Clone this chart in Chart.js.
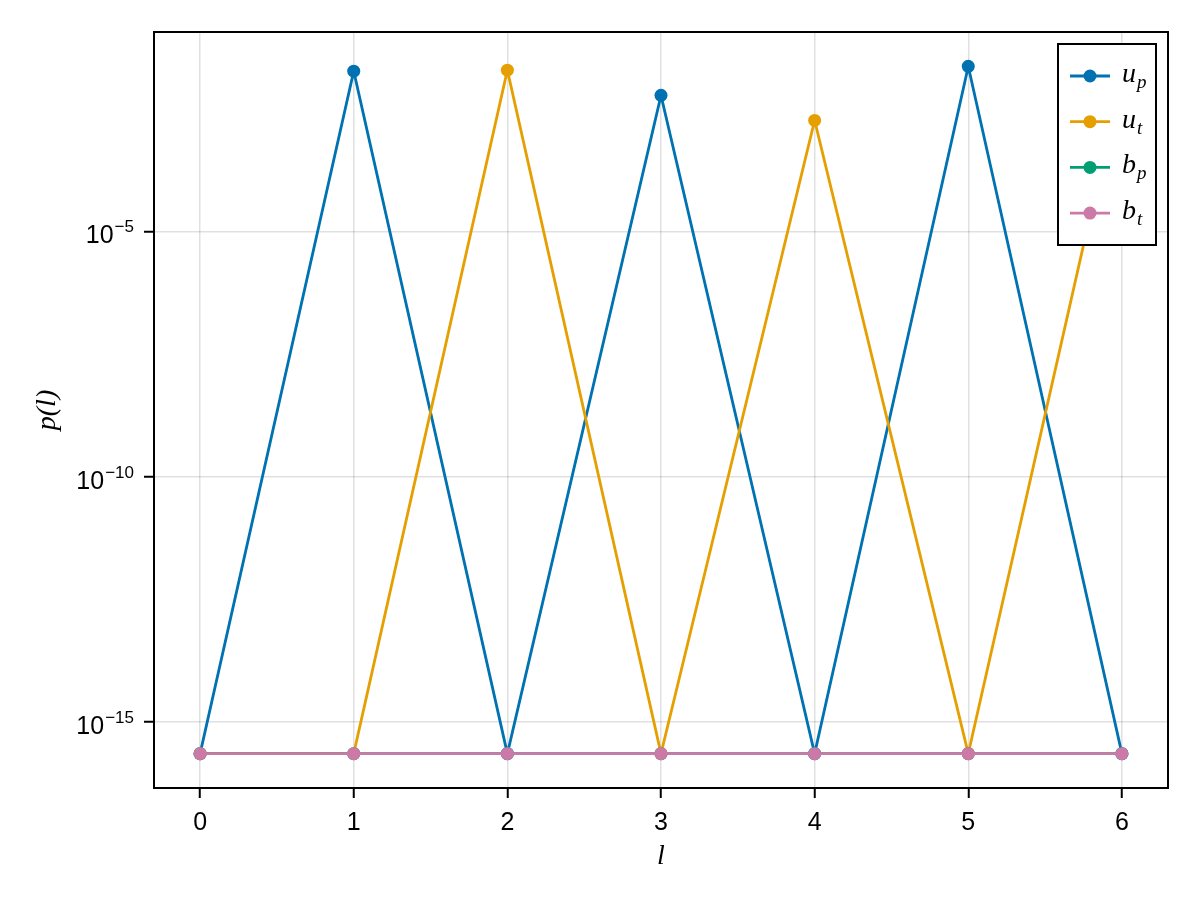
<!DOCTYPE html>
<html>
<head>
<meta charset="utf-8">
<script src="https://cdn.jsdelivr.net/npm/chart.js@4"></script>
<style>
  body { margin: 0; background: #fff; }
  #wrap { width: 1200px; height: 900px; }
</style>
</head>
<body>
<div id="wrap"><canvas id="myChart" width="1200" height="900"></canvas></div>
<script>
// data
const ls = [0, 1, 2, 3, 4, 5, 6]
const upValues = [2.22e-16, 0.0186, 2.22e-16, 0.00597, 2.22e-16, 0.0233, 2.22e-16]
const utValues = [2.22e-16, 2.22e-16, 0.0195, 2.22e-16, 0.00184, 2.22e-16, 0.0151]
const bpValues = [2.22e-16, 2.22e-16, 2.22e-16, 2.22e-16, 2.22e-16, 2.22e-16, 2.22e-16]
const btValues = [2.22e-16, 2.22e-16, 2.22e-16, 2.22e-16, 2.22e-16, 2.22e-16, 2.22e-16]

const seriesNames = ["u_p", "u_t", "b_p", "b_t"]
const seriesBase = ["u", "u", "b", "b"]
const seriesSub = ["p", "t", "p", "t"]
const seriesColors = ["#0072B2", "#E69F00", "#009E73", "#CC79A7"]

const xTickValues = [0, 1, 2, 3, 4, 5, 6]
const yTickValues = [1e-15, 1e-10, 1e-5]
const yTickBase = ["10", "10", "10"]
const yTickExp = ["\u221215", "\u221210", "\u22125"]

const SANS = "'Liberation Sans', Arial, sans-serif"
const MATH = "'Liberation Serif', 'DejaVu Serif', serif"

function toPoints(values) {
    return ls.map((l, i) => ({ x: l, y: values[i] }))
}

// makie-like 5% margins
var allVals = [].concat(upValues, utValues, bpValues, btValues)
var logMin = Math.log10(Math.min.apply(null, allVals))
var logMax = Math.log10(Math.max.apply(null, allVals))
var logPad = (logMax - logMin) * 0.05
var xPad = (ls[ls.length - 1] - ls[0]) * 0.05

const framePlugin = {
    id: "frame",
    afterDatasetsDraw(chart) {
        const ctx = chart.ctx, a = chart.chartArea
        ctx.save()
        ctx.strokeStyle = "#000"
        ctx.lineWidth = 2
        ctx.strokeRect(a.left, a.top, a.right - a.left, a.bottom - a.top)
        ctx.restore()
    }
}

// y tick labels with a raised exponent: 10^-5 ...
const yLabelPlugin = {
    id: "yLabels",
    afterDraw(chart) {
        const ctx = chart.ctx, ys = chart.scales.y
        const right = ys.right - 20
        ctx.save()
        ctx.fillStyle = "#000"
        ctx.textAlign = "right"
        ctx.textBaseline = "alphabetic"
        yTickValues.forEach((v, i) => {
            const y = ys.getPixelForValue(v)
            ctx.font = "17px " + SANS
            ctx.fillText(yTickExp[i], right, y + 1)
            const ew = ctx.measureText(yTickExp[i]).width
            ctx.font = "25px " + SANS
            ctx.fillText(yTickBase[i], right - ew - 1, y + 12)
        })
        ctx.restore()
    }
}

const legendPlugin = {
    id: "mathLegend",
    afterDraw(chart) {
        const ctx = chart.ctx, a = chart.chartArea
        const w = 98, h = 201
        const bx = a.right - 12 - w, by = a.top + 12
        ctx.save()
        ctx.fillStyle = "#fff"
        ctx.fillRect(bx, by, w, h)
        ctx.strokeStyle = "#000"
        ctx.lineWidth = 2
        ctx.strokeRect(bx, by, w, h)
        seriesNames.forEach((name, i) => {
            const y = by + 32 + i * 45.7
            ctx.strokeStyle = seriesColors[i]
            ctx.lineWidth = 2.8
            ctx.beginPath()
            ctx.moveTo(bx + 12, y)
            ctx.lineTo(bx + 52, y)
            ctx.stroke()
            ctx.fillStyle = seriesColors[i]
            ctx.beginPath()
            ctx.arc(bx + 32, y, 6.5, 0, Math.PI * 2)
            ctx.fill()
            ctx.fillStyle = "#000"
            ctx.textBaseline = "alphabetic"
            ctx.textAlign = "left"
            ctx.font = "italic 28px " + MATH
            ctx.fillText(seriesBase[i], bx + 64, y + 6)
            var bw = ctx.measureText(seriesBase[i]).width
            ctx.font = "italic 19px " + MATH
            ctx.fillText(seriesSub[i], bx + 64 + bw + 1, y + 12)
        })
        ctx.restore()
    }
}

new Chart("myChart", {
    type: "line",
    data: {
        datasets: [
            { label: seriesNames[0], data: toPoints(upValues) },
            { label: seriesNames[1], data: toPoints(utValues) },
            { label: seriesNames[2], data: toPoints(bpValues) },
            { label: seriesNames[3], data: toPoints(btValues) }
        ].map((d, i) => Object.assign(d, {
            order: 3 - i,
            borderColor: seriesColors[i],
            backgroundColor: seriesColors[i],
            pointBackgroundColor: seriesColors[i],
            pointBorderWidth: 0,
            pointRadius: 6.5,
            borderWidth: 2.8,
            tension: 0,
            fill: false
        }))
    },
    options: {
        responsive: false,
        animation: false,
        devicePixelRatio: 1,
        layout: { padding: { left: 0, top: 32, right: 32, bottom: 0 } },
        plugins: {
            legend: { display: false },
            tooltip: { enabled: false }
        },
        scales: {
            x: {
                type: "linear",
                min: ls[0] - xPad,
                max: ls[ls.length - 1] + xPad,
                afterBuildTicks: (scale) => { scale.ticks = xTickValues.map(v => ({ value: v })) },
                afterFit: (scale) => { scale.height = 112 },
                grid: { color: "rgba(0,0,0,0.12)", lineWidth: 1.5, tickLength: 10, tickColor: "#000", tickWidth: 2 },
                border: { display: false },
                ticks: { color: "#000", font: { family: SANS, size: 25 }, padding: 10, maxRotation: 0 },
                title: { display: true, text: "l", color: "#000", font: { family: MATH, size: 28, style: "italic" }, padding: { top: 27, bottom: 27 } }
            },
            y: {
                type: "logarithmic",
                min: Math.pow(10, logMin - logPad),
                max: Math.pow(10, logMax + logPad),
                afterBuildTicks: (scale) => { scale.ticks = yTickValues.map(v => ({ value: v })) },
                afterFit: (scale) => { scale.width = 154 },
                grid: { color: "rgba(0,0,0,0.12)", lineWidth: 1.5, tickLength: 10, tickColor: "#000", tickWidth: 2 },
                border: { display: false },
                ticks: { display: false },
                title: { display: true, text: "p(l)", color: "#000", font: { family: MATH, size: 28, style: "italic" }, padding: { top: 31, bottom: 31 } }
            }
        }
    },
    plugins: [framePlugin, yLabelPlugin, legendPlugin]
})
</script>
</body>
</html>
